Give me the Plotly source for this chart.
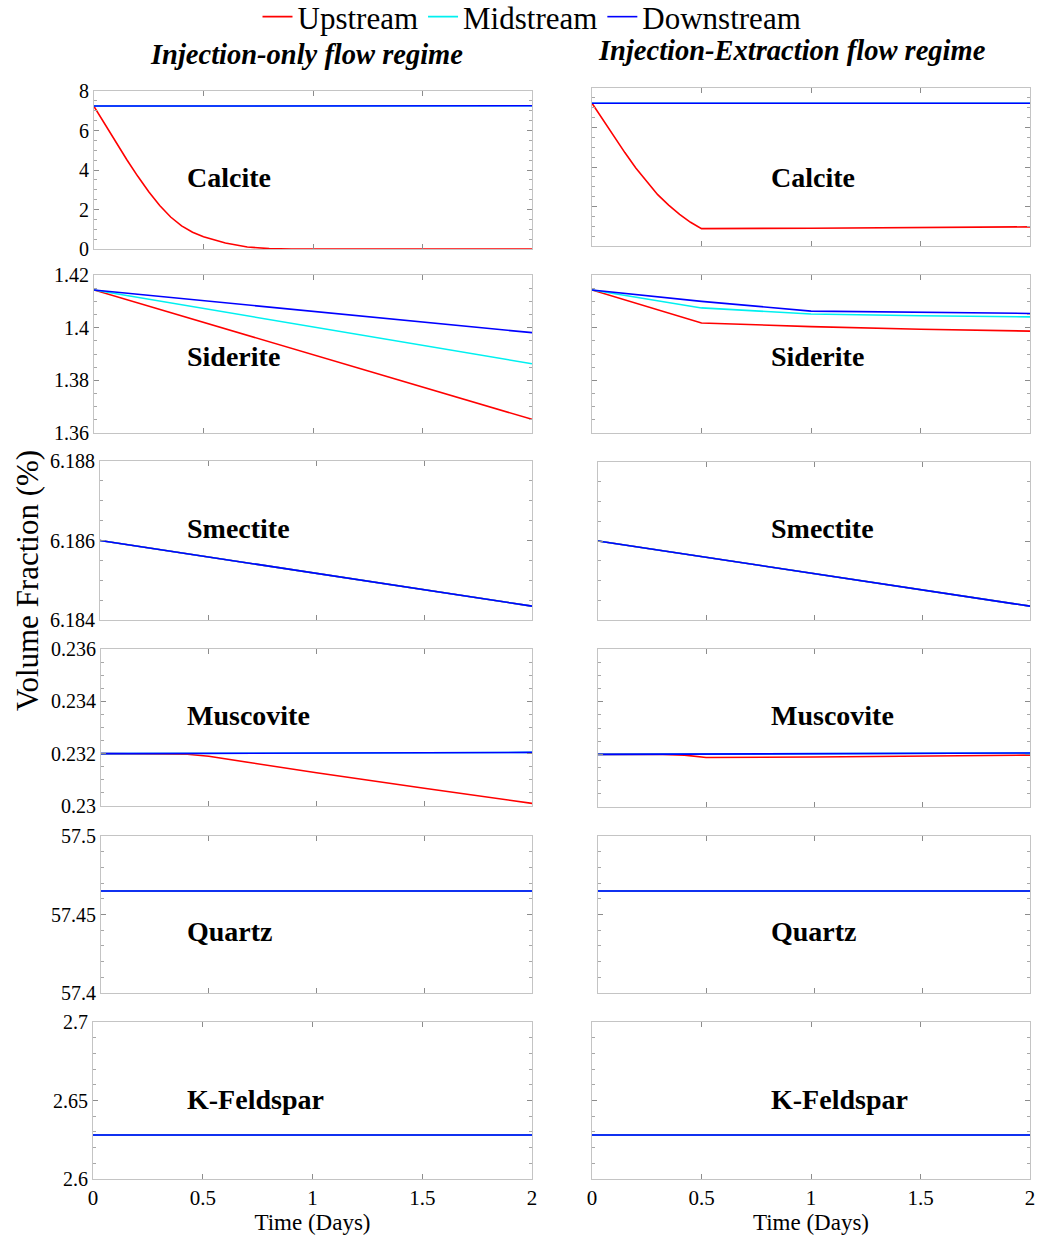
import plotly.graph_objects as go

W, H = 1038, 1238
FONT = "Liberation Serif"

# ---- data -------------------------------------------------------------
minerals = ["Calcite", "Siderite", "Smectite", "Muscovite", "Quartz", "K-Feldspar"]
regimes = ["Injection-only flow regime", "Injection-Extraction flow regime"]
series_names = ["Upstream", "Midstream", "Downstream"]
series_colors = ["#ff0000", "#00f0f0", "#0000ff"]

time_ticks = [0, 0.5, 1, 1.5, 2]
time_ticktext = ["0", "0.5", "1", "1.5", "2"]

y_ranges = [[0, 8], [1.36, 1.42], [6.184, 6.188], [0.23, 0.236], [57.4, 57.5], [2.6, 2.7]]
y_tickvals = [[0, 2, 4, 6, 8], [1.36, 1.38, 1.40, 1.42], [6.184, 6.186, 6.188],
              [0.230, 0.232, 0.234, 0.236], [57.40, 57.45, 57.50], [2.60, 2.65, 2.70]]
y_ticktext = [["0", "2", "4", "6", "8"], ["1.36", "1.38", "1.4", "1.42"],
              ["6.184", "6.186", "6.188"], ["0.23", "0.232", "0.234", "0.236"],
              ["57.4", "57.45", "57.5"], ["2.6", "2.65", "2.7"]]
y_minor_step = [0.5, 0.005, 0.0005, 0.0005, 0.01, 0.01]

t_ends = [0, 2]
t_half = [0, 0.5, 1.0, 1.5, 2.0]
t_calcite_inj = [0, 0.05, 0.1, 0.15, 0.2, 0.25, 0.3, 0.35, 0.4, 0.45, 0.5,
                 0.6, 0.7, 0.8, 0.9, 1.0, 1.5, 2.0]
t_calcite_ext = [0, 0.05, 0.1, 0.15, 0.2, 0.25, 0.3, 0.35, 0.4, 0.45, 0.5,
                 1.0, 1.5, 2.0]
t_musc_inj = [0, 0.3, 0.4, 0.5, 0.7, 1.0, 1.5, 2.0]
t_musc_ext = [0, 0.3, 0.4, 0.5, 1.0, 1.5, 2.0]

# Injection-only regime
calcite_up_inj = [7.22, 6.3, 5.4, 4.52, 3.68, 2.9, 2.2, 1.62, 1.17, 0.85, 0.62,
                  0.3, 0.1, 0.02, 0.0, 0.0, 0.0, 0.0]
calcite_mid_inj = [7.24, 7.25]
calcite_down_inj = [7.24, 7.25]
siderite_up_inj = [1.4143, 1.4020, 1.3898, 1.3775, 1.3652]
siderite_mid_inj = [1.4143, 1.4073, 1.4003, 1.3933, 1.3863]
siderite_down_inj = [1.4143, 1.4103, 1.4062, 1.4022, 1.3981]
smectite_up_inj = [6.18600, 6.18435]
smectite_mid_inj = [6.18600, 6.18435]
smectite_down_inj = [6.18600, 6.18435]
muscovite_up_inj = [0.23200, 0.23200, 0.23198, 0.23190, 0.23165, 0.23127, 0.23068, 0.23010]
muscovite_mid_inj = [0.23200, 0.23205]
muscovite_down_inj = [0.23200, 0.23205]
quartz_up_inj = [57.465, 57.465]
quartz_mid_inj = [57.465, 57.465]
quartz_down_inj = [57.465, 57.465]
kfeldspar_up_inj = [2.628, 2.628]
kfeldspar_mid_inj = [2.628, 2.628]
kfeldspar_down_inj = [2.628, 2.628]

# Injection-Extraction regime
calcite_up_ext = [7.23, 6.38, 5.55, 4.73, 3.95, 3.25, 2.6, 2.07, 1.6, 1.2, 0.88,
                  0.90, 0.95, 0.97]
calcite_mid_ext = [7.23, 7.23]
calcite_down_ext = [7.23, 7.23]
siderite_up_ext = [1.4143, 1.4018, 1.4004, 1.3994, 1.3987]
siderite_mid_ext = [1.4143, 1.4075, 1.4052, 1.4045, 1.4041]
siderite_down_ext = [1.4143, 1.4100, 1.4063, 1.4058, 1.4054]
smectite_up_ext = [6.18600, 6.18435]
smectite_mid_ext = [6.18600, 6.18435]
smectite_down_ext = [6.18600, 6.18435]
muscovite_up_ext = [0.23200, 0.23200, 0.23197, 0.23188, 0.23190, 0.23193, 0.23197]
muscovite_mid_ext = [0.23200, 0.23205]
muscovite_down_ext = [0.23200, 0.23205]
quartz_up_ext = [57.465, 57.465]
quartz_mid_ext = [57.465, 57.465]
quartz_down_ext = [57.465, 57.465]
kfeldspar_up_ext = [2.628, 2.628]
kfeldspar_mid_ext = [2.628, 2.628]
kfeldspar_down_ext = [2.628, 2.628]

panels = {
    (0, 0): [(t_calcite_inj, calcite_up_inj), (t_ends, calcite_mid_inj), (t_ends, calcite_down_inj)],
    (1, 0): [(t_half, siderite_up_inj), (t_half, siderite_mid_inj), (t_half, siderite_down_inj)],
    (2, 0): [(t_ends, smectite_up_inj), (t_ends, smectite_mid_inj), (t_ends, smectite_down_inj)],
    (3, 0): [(t_musc_inj, muscovite_up_inj), (t_ends, muscovite_mid_inj), (t_ends, muscovite_down_inj)],
    (4, 0): [(t_ends, quartz_up_inj), (t_ends, quartz_mid_inj), (t_ends, quartz_down_inj)],
    (5, 0): [(t_ends, kfeldspar_up_inj), (t_ends, kfeldspar_mid_inj), (t_ends, kfeldspar_down_inj)],
    (0, 1): [(t_calcite_ext, calcite_up_ext), (t_ends, calcite_mid_ext), (t_ends, calcite_down_ext)],
    (1, 1): [(t_half, siderite_up_ext), (t_half, siderite_mid_ext), (t_half, siderite_down_ext)],
    (2, 1): [(t_ends, smectite_up_ext), (t_ends, smectite_mid_ext), (t_ends, smectite_down_ext)],
    (3, 1): [(t_musc_ext, muscovite_up_ext), (t_ends, muscovite_mid_ext), (t_ends, muscovite_down_ext)],
    (4, 1): [(t_ends, quartz_up_ext), (t_ends, quartz_mid_ext), (t_ends, quartz_down_ext)],
    (5, 1): [(t_ends, kfeldspar_up_ext), (t_ends, kfeldspar_mid_ext), (t_ends, kfeldspar_down_ext)],
}

# ---- panel geometry (pixels: left, right, top, bottom) -----------------
boxes = {
    (0, 0): (94, 532, 91, 249),   (0, 1): (592, 1030, 88, 246),
    (1, 0): (94, 532, 275, 433),  (1, 1): (592, 1030, 275, 433),
    (2, 0): (100, 532, 461, 620), (2, 1): (598, 1030, 462, 620),
    (3, 0): (101, 532, 649, 806), (3, 1): (598, 1030, 649, 807),
    (4, 0): (101, 532, 836, 993), (4, 1): (598, 1030, 836, 993),
    (5, 0): (93, 532, 1022, 1179), (5, 1): (592, 1030, 1022, 1179),
}
label_y = [177, 356, 528, 715, 931, 1099]
label_x = [185, 769]

AXIS_LINE = "#c4c4c4"
TICK_COL = "#8c8c8c"

fig = go.Figure()
layout = {}
annotations = []

k = 0
for col in range(2):
    for row in range(6):
        k += 1
        sfx = "" if k == 1 else str(k)
        l, r, t, b = boxes[(row, col)]
        for s, (tx, vy) in enumerate(panels[(row, col)]):
            fig.add_trace(go.Scatter(
                x=tx, y=vy, mode="lines",
                line=dict(color=series_colors[s], width=1.6),
                name=series_names[s], legendgroup=series_names[s],
                showlegend=(k == 1),
                xaxis="x" + sfx, yaxis="y" + sfx,
            ))
        bottom = row == 5
        layout["xaxis" + sfx] = dict(
            domain=[l / W, r / W], anchor="y" + sfx, range=[0, 2],
            tickvals=time_ticks, ticktext=time_ticktext,
            showticklabels=bottom, ticks="inside", ticklen=5, tickcolor=TICK_COL,
            showline=True, linecolor=AXIS_LINE, linewidth=1.2, mirror="ticks",
            showgrid=False, zeroline=False,
            tickfont=dict(family=FONT, size=21, color="black"),
            title=dict(text="Time (Days)" if bottom else "",
                       font=dict(family=FONT, size=23, color="black"), standoff=0),
        )
        layout["yaxis" + sfx] = dict(
            domain=[1 - b / H, 1 - t / H], anchor="x" + sfx, range=y_ranges[row],
            tickvals=y_tickvals[row], ticktext=y_ticktext[row],
            showticklabels=(col == 0), ticks="inside", ticklen=5, tickcolor=TICK_COL,
            minor=dict(ticks="inside", ticklen=3, tickcolor="#a8a8a8",
                       dtick=y_minor_step[row], tick0=y_ranges[row][0]),
            showline=True, linecolor=AXIS_LINE, linewidth=1.2, mirror="ticks",
            showgrid=False, zeroline=False,
            tickfont=dict(family=FONT, size=20, color="black"),
        )
        annotations.append(dict(
            text="<b>%s</b>" % minerals[row], x=label_x[col] / W, y=1 - label_y[row] / H,
            xref="paper", yref="paper", xanchor="left", yanchor="middle",
            showarrow=False, font=dict(family=FONT, size=28, color="black"),
        ))

# column headings
for col, (cx, cy) in enumerate([(306, 55), (792, 50)]):
    annotations.append(dict(
        text="<b><i>%s</i></b>" % regimes[col], x=cx / W, y=1 - cy / H,
        xref="paper", yref="paper", xanchor="center", yanchor="middle",
        showarrow=False, font=dict(family=FONT, size=28.5, color="black"),
    ))

# shared y-axis title
annotations.append(dict(
    text="Volume Fraction (%)", x=27 / W, y=1 - 581 / H, xref="paper", yref="paper",
    xanchor="center", yanchor="middle", textangle=-90, showarrow=False,
    font=dict(family=FONT, size=31, color="black"),
))

fig.update_layout(
    width=W, height=H,
    margin=dict(l=0, r=0, t=0, b=0, autoexpand=False),
    paper_bgcolor="white", plot_bgcolor="white",
    annotations=annotations,
    legend=dict(orientation="h", x=532 / W, y=1 - 17 / H, xanchor="center", yanchor="middle",
                font=dict(family=FONT, size=31, color="black"), itemwidth=30,
                bgcolor="rgba(0,0,0,0)", tracegroupgap=0),
    **layout,
)

fig.write_html("out.html")
